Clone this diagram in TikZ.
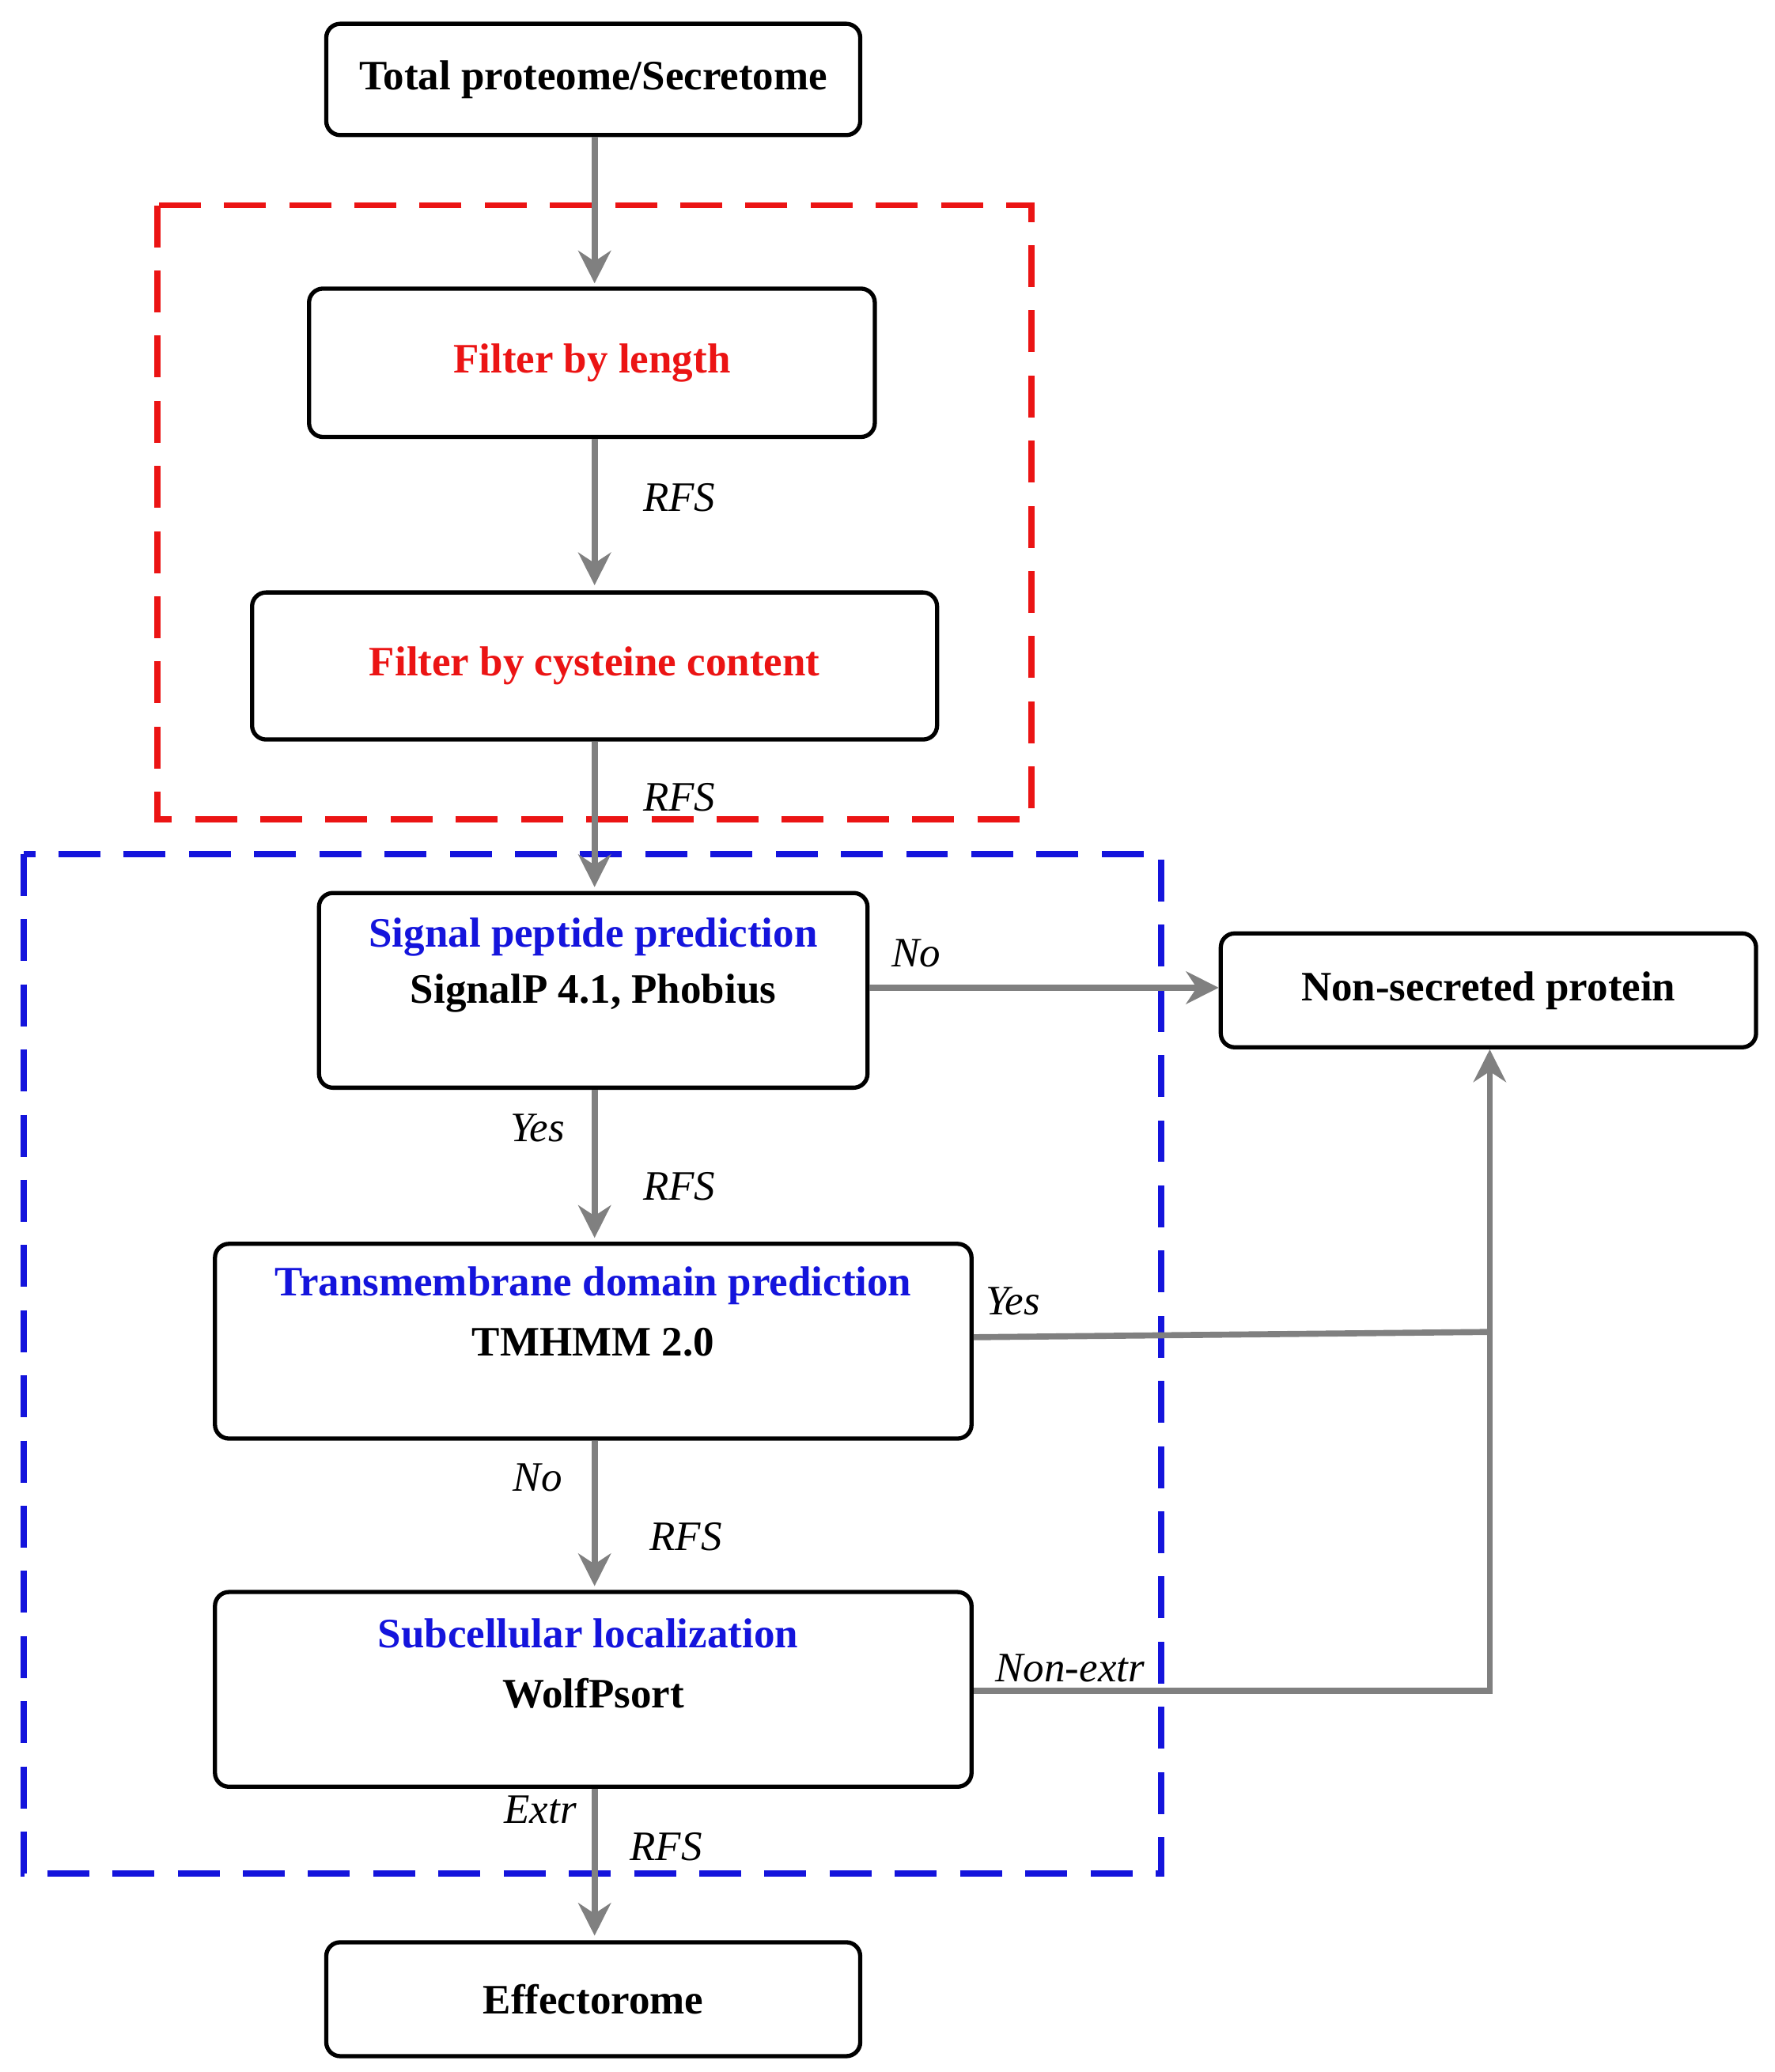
\documentclass[tikz,border=0pt]{standalone}
\usepackage{fontspec}
\setmainfont{Liberation Serif}
\usetikzlibrary{arrows.meta}
\definecolor{ar}{RGB}{128,128,128}
\definecolor{bl}{RGB}{20,20,220}
\definecolor{rd}{RGB}{235,20,20}
\begin{document}
\begin{tikzpicture}[x=0.01cm,y=-0.01cm,
  box/.style={draw,rounded corners=3pt,line width=0.9pt},
  lab/.style={font=\fontsize{9}{11}\selectfont\bfseries},
  ttl/.style={font=\fontsize{9}{11}\selectfont\bfseries},
  ital/.style={font=\fontsize{9}{11}\selectfont\itshape},
  arr/.style={draw=ar,line width=1.3pt,-{Stealth[length=7pt,width=7pt]}},
  ln/.style={draw=ar,line width=1.3pt}]
\useasboundingbox (0,0) rectangle (1340,1565);
\draw[rd,dashed,line width=1.3pt,dash pattern=on 9pt off 5pt] (119,155) rectangle (779,619);
\draw[bl,dashed,line width=1.3pt,dash pattern=on 9pt off 5pt] (18,645) rectangle (877,1415);
\node[box,minimum width=4.03cm,minimum height=0.84cm,lab] (tot) at (448,60) {Total proteome/Secretome};
\node[box,minimum width=4.27cm,minimum height=1.12cm,lab,text=rd] (len) at (447,274) {Filter by length};
\node[box,minimum width=5.17cm,minimum height=1.11cm,lab,text=rd] (cys) at (449,503) {Filter by cysteine content};
\node[box,minimum width=4.14cm,minimum height=1.47cm] (sig) at (448,748) {};
\node[lab,text=bl] (sigt) at (448,708) {Signal peptide prediction};
\node[lab] (sigs) at (448,750) {SignalP 4.1, Phobius};
\node[box,minimum width=4.04cm,minimum height=0.86cm,lab] (non) at (1124,748) {Non-secreted protein};
\node[box,minimum width=5.71cm,minimum height=1.47cm] (tm) at (448,1013) {};
\node[lab,text=bl] (tmt) at (448,971) {Transmembrane domain prediction};
\node[lab] (tms) at (448,1014) {TMHMM 2.0};
\node[box,minimum width=5.71cm,minimum height=1.47cm] (sub) at (448,1276) {};
\node[lab,text=bl] (subt) at (444,1234) {Subcellular localization};
\node[lab] (subs) at (448,1279) {WolfPsort};
\node[box,minimum width=4.03cm,minimum height=0.86cm,lab] (eff) at (448,1510) {Effectorome};
\coordinate (j1) at (1125,1006);
\coordinate (j2) at (1125,1277);
\path[arr] (tot.south -| 449,0) -- (449,214);
\path[arr] (len.south -| 449,0) -- (449,442);
\path[arr] (cys.south -| 449,0) -- (449,670);
\path[arr] (sig.south -| 449,0) -- (449,935);
\path[arr] (tm.south -| 449,0) -- (449,1198);
\path[arr] (sub.south -| 449,0) -- (449,1462);
\path[arr] (sig.east |- 0,746) -- (non.west |- 0,746);
\path[ln] (tm.east |- 0,1010) -- (j1);
\path[ln] (sub.east |- 0,1277) -- (j2) -- (j1);
\path[arr] (j1) -- (non.south -| j1);
\node[ital] at (513,376) {RFS};
\node[ital] at (513,602) {RFS};
\node[ital] at (513,896) {RFS};
\node[ital] at (518,1161) {RFS};
\node[ital] at (503,1395) {RFS};
\node[ital] at (692,720) {No};
\node[ital] at (406,852) {Yes};
\node[ital] at (765,983) {Yes};
\node[ital] at (406,1116) {No};
\node[ital] at (808,1260) {Non-extr};
\node[ital] at (408,1367) {Extr};
\end{tikzpicture}
\end{document}
